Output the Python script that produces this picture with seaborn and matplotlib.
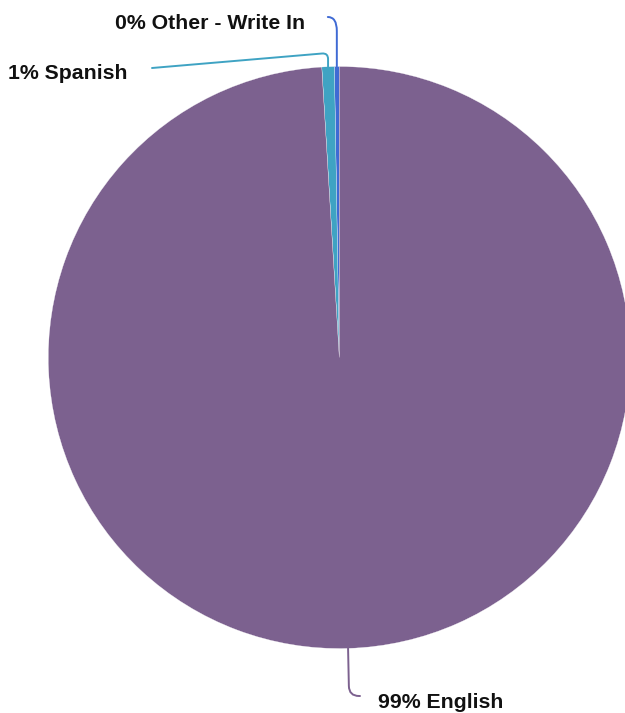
import numpy as np
import matplotlib
matplotlib.use("Agg")
import matplotlib.pyplot as plt
from matplotlib.path import Path
from matplotlib.patches import PathPatch
import seaborn as sns

# Survey: preferred language
categories = ["Other - Write In", "Spanish", "English"]
shares = [0.27, 0.69, 99.04]
colors = ["#3f6ad4", "#3fa3c3", "#7c618f"]

sns.set_theme(style="white")
plt.rcParams["font.family"] = ["Liberation Sans", "DejaVu Sans"]

W, H = 625, 713
fig = plt.figure(figsize=(W / 100, H / 100), dpi=100)
ax = fig.add_axes([0, 0, 1, 1])

cx, cy, r = 339.3, 357.5, 291.0

# y axis points down, so clockwise in data space reads counterclockwise on screen
wedges, _ = ax.pie(
    shares, colors=colors, startangle=-90, counterclock=False,
    radius=r, center=(cx, cy),
    wedgeprops=dict(edgecolor="white", linewidth=0.2),
)
ax.set_xlim(0, W)
ax.set_ylim(H, 0)
ax.set_aspect("equal")
ax.axis("off")


def leader(points, color, radius=8.0):
    """Polyline with rounded corners (absolute corner radius) through the points."""
    verts = [points[0]]
    codes = [Path.MOVETO]
    for i in range(1, len(points) - 1):
        p0, p1, p2 = map(np.array, points[i - 1:i + 2])
        d0 = p0 - p1
        d2 = p2 - p1
        a = p1 + d0 / np.linalg.norm(d0) * min(radius, np.linalg.norm(d0))
        b = p1 + d2 / np.linalg.norm(d2) * min(radius, np.linalg.norm(d2))
        verts += [tuple(a), tuple(p1), tuple(b)]
        codes += [Path.LINETO, Path.CURVE3, Path.CURVE3]
    verts.append(points[-1])
    codes.append(Path.LINETO)
    ax.add_patch(PathPatch(Path(verts, codes), fill=False, edgecolor=color,
                           linewidth=1.4, capstyle="round"))


def edge_point(idx, frac=0.5):
    w = wedges[idx]
    ang = np.deg2rad(w.theta1 + (w.theta2 - w.theta1) * frac)
    return cx + r * np.cos(ang), cy + r * np.sin(ang)


def label(i):
    return f"{round(shares[i]):.0f}% {categories[i]}"


txt = dict(fontsize=15.3, fontweight="bold", color="#111111", va="baseline")

# Other - Write In
x0, y0 = edge_point(0)
leader([(x0, y0), (x0, 17), (x0 - 9, 17)], colors[0], radius=14)
ax.text(305, 29, label(0), ha="right", **txt)

# Spanish
x1, y1 = edge_point(1)
leader([(x1, y1), (x1, 53), (152, 68)], colors[1], radius=6)
ax.text(128, 79, label(1), ha="right", **txt)

# English
x2, y2 = edge_point(2)
leader([(x2, y2), (x2 + 1, 696), (360, 696)], colors[2], radius=10)
ax.text(378, 708, label(2), ha="left", **txt)

fig.savefig("out.png", dpi=100)
